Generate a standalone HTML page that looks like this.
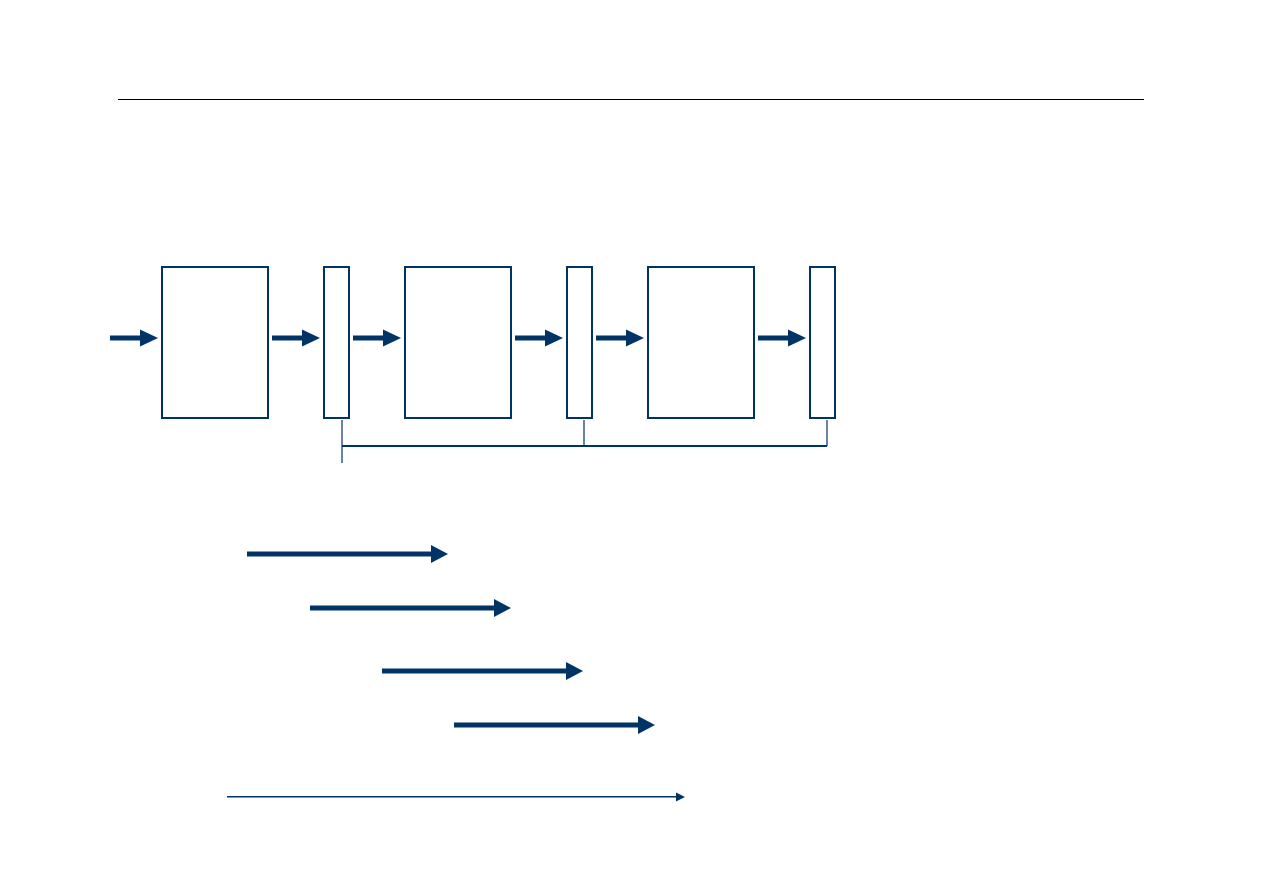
<!DOCTYPE html>
<html><head><meta charset="utf-8"><style>html,body{margin:0;padding:0;background:#fff}svg{display:block}</style></head>
<body>
<svg width="1263" height="893" viewBox="0 0 1263 893" xmlns="http://www.w3.org/2000/svg">
<defs>
<g id="a"><rect x="0" y="-2.5" width="32" height="5" fill="#003366"/><polygon points="30,-8.5 48,0 30,8.5" fill="#003366"/></g>
</defs>
<line x1="118" y1="99.5" x2="1144" y2="99.5" stroke="#000" stroke-width="1"/>
<g fill="#fff" stroke="#003366" stroke-width="2">
<rect x="162" y="267" width="106" height="151"/>
<rect x="324" y="267" width="25" height="151"/>
<rect x="405" y="267" width="106" height="151"/>
<rect x="567" y="267" width="25" height="151"/>
<rect x="648" y="267" width="106" height="151"/>
<rect x="810" y="267" width="25" height="151"/>
</g>
<use href="#a" x="110" y="338"/>
<use href="#a" x="272" y="338"/>
<use href="#a" x="353" y="338"/>
<use href="#a" x="515" y="338"/>
<use href="#a" x="596" y="338"/>
<use href="#a" x="758" y="338"/>
<g stroke="#003366" fill="none">
<line x1="342" y1="420" x2="342" y2="463" stroke-width="1.2"/>
<line x1="584" y1="420" x2="584" y2="446" stroke-width="1.2"/>
<line x1="827" y1="420" x2="827" y2="446" stroke-width="1.2"/>
<line x1="342" y1="446" x2="827" y2="446" stroke-width="2"/>
</g>
<g fill="#003366">
<rect x="247" y="551.5" width="186" height="5"/><polygon points="431,545 448,554 431,563"/>
<rect x="310" y="605.5" width="186" height="5"/><polygon points="494,599 511,608 494,617"/>
<rect x="382" y="668.5" width="186" height="5"/><polygon points="566,662 583,671 566,680"/>
<rect x="454" y="722.5" width="186" height="5"/><polygon points="638,716 655,725 638,734"/>
<rect x="227" y="796" width="451" height="1.5"/><polygon points="676,792.5 685,797 676,801.5"/>
</g>
</svg>
</body></html>
